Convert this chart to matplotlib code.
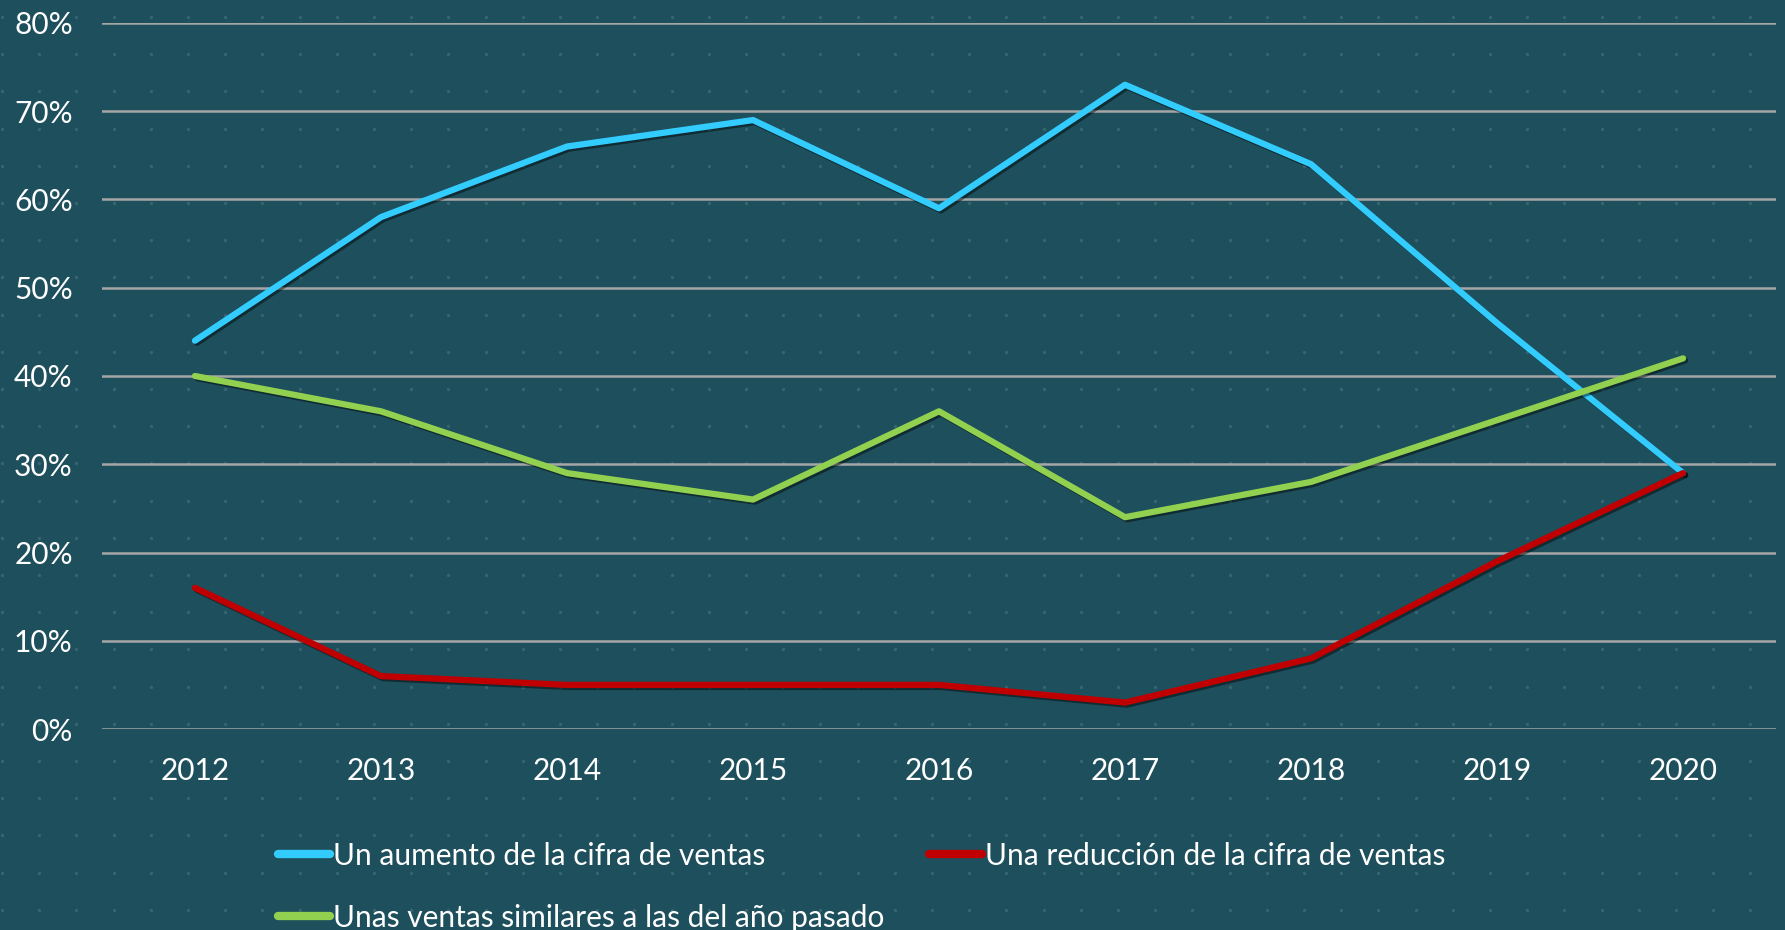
import numpy as np
import matplotlib
matplotlib.use("Agg")
import matplotlib.pyplot as plt
import matplotlib.patheffects as pe
from matplotlib.ticker import PercentFormatter

years = ["2012", "2013", "2014", "2015", "2016", "2017", "2018", "2019", "2020"]
aumento = [44, 58, 66, 69, 59, 73, 64, 46, 29]
reduccion = [16, 6, 5, 5, 5, 3, 8, 19, 29]
similares = [40, 36, 29, 26, 36, 24, 28, 35, 42]

labels = ["Un aumento de la cifra de ventas",
          "Una reducción de la cifra de ventas",
          "Unas ventas similares a las del año pasado"]
colors = ["#33CCFF", "#C00000", "#92D050"]

bg = "#1E4F5C"
plt.rcParams['font.family'] = ['Lato', 'DejaVu Sans']

fig = plt.figure(figsize=(17.85, 9.3), dpi=100, facecolor=bg)

# faint dotted texture of the background
bgax = fig.add_axes([0, 0, 1, 1], zorder=-5)
bgax.set_xlim(0, 1785)
bgax.set_ylim(930, 0)
bgax.axis("off")
gx, gy = np.meshgrid(np.arange(2, 1785, 37.2), np.arange(17, 930, 37.2))
bgax.scatter(gx.ravel(), gy.ravel(), s=6, color="#6E98A2", alpha=0.3, linewidths=0)

ax = fig.add_axes([0.0571, 0.2161, 0.9379, 0.7592])
ax.set_facecolor("none")
x = np.arange(len(years))
shadow = [pe.SimpleLineShadow(offset=(1.5, -1.5), shadow_color="black", alpha=0.45), pe.Normal()]
lines = []
for vals, lab, c in zip([aumento, reduccion, similares], labels, colors):
    ln, = ax.plot(x, np.array(vals) / 100, color=c, lw=4.5, label=lab,
                  solid_capstyle="round", solid_joinstyle="round", path_effects=shadow, zorder=3)
    lines.append(ln)

ax.set_xlim(-0.5, len(years) - 0.5)
ax.set_ylim(0, 0.8)
ax.set_yticks(np.arange(0, 0.81, 0.1))
ax.yaxis.set_major_formatter(PercentFormatter(1.0, decimals=0))
ax.set_xticks(x)
ax.set_xticklabels(years)
ax.grid(axis="y", color="#A6A6A6", lw=1.8, zorder=1)
for s in ax.spines.values():
    s.set_visible(False)
ax.tick_params(length=0, colors="white", labelsize=21.5)
ax.tick_params(axis="y", pad=21)
ax.tick_params(axis="x", pad=20)

# legend fills column-wise: aumento / similares in column 1, reduccion in column 2
order = [0, 2, 1]
leg = fig.legend([lines[i] for i in order], [labels[i] for i in order], ncol=2,
                 loc="upper left", bbox_to_anchor=(0.149, 0.108),
                 frameon=False, fontsize=21.5, labelcolor="white",
                 handlelength=1.75, handletextpad=0.1, columnspacing=1.5,
                 labelspacing=1.15, borderaxespad=0)
for line in leg.get_lines():
    line.set_linewidth(6)
    line.set_path_effects([])

fig.savefig("out.png", dpi=100, facecolor=bg)
